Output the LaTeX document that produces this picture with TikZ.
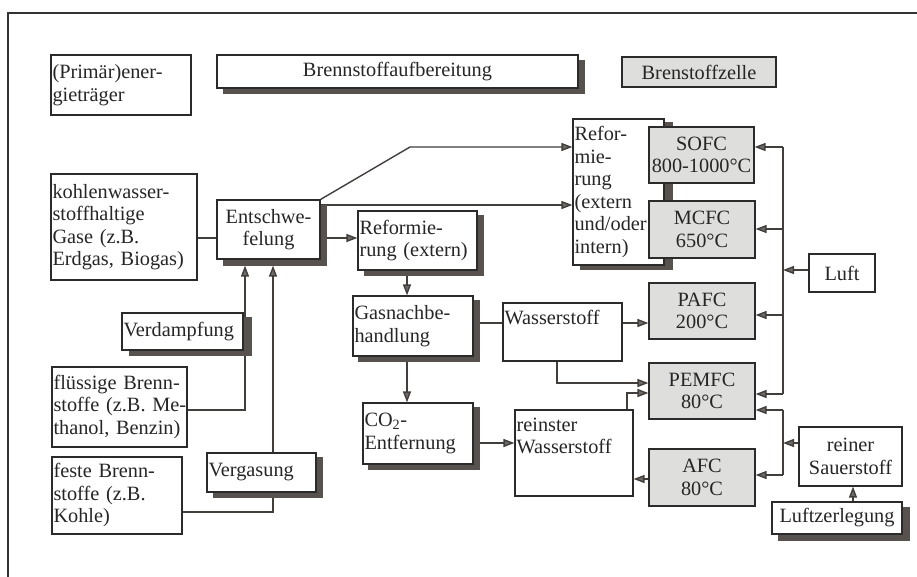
\documentclass[tikz,border=0pt]{standalone}
\usepackage{fontspec}
\setmainfont{Liberation Serif}
\usetikzlibrary{arrows.meta,backgrounds,calc}
\definecolor{boxc}{HTML}{2B2B2B}
\definecolor{txtc}{HTML}{262626}
\definecolor{cellc}{HTML}{DEDEDC}
\definecolor{shdc}{HTML}{58524F}
\definecolor{linec}{HTML}{423E3C}
\definecolor{arrc}{HTML}{6E6A68}
\definecolor{framec}{HTML}{333333}
\newcommand\dfont{\fontsize{20.3pt}{22.5pt}\selectfont}
\newcommand\mkshadow[3]{\fill[shdc] ($(#1.south west)+(#2,#3)$) rectangle ($(#1.north east)+(#2,#3)$);}
\begin{document}
\begin{tikzpicture}[x=1pt,y=-1pt,
 box/.style={draw=boxc, line width=1.2pt, fill=white, inner xsep=1.5pt, inner ysep=0pt, text=txtc, font=\dfont, align=left},
 cbox/.style={box, align=center},
 cell/.style={box, fill=cellc, align=center, inner xsep=1pt},
 toplab/.style={anchor=north west, inner xsep=2pt, inner ysep=8pt, text=txtc, font=\dfont, align=left},
 conn/.style={draw=linec, line width=1.4pt},
 arr/.style={conn, -{Triangle[length=11pt,width=8pt,fill=arrc]}},
]
\useasboundingbox (0,0) rectangle (917,576);
\draw[framec, line width=1.5pt] (8,600) -- (8,13) -- (940,13);

% headers
\node[box, minimum width=140pt, minimum height=60pt, text width=137pt] (prim) at (121,85) {(Primär)ener-\\gieträger};
\node[cbox, minimum width=361pt, minimum height=33pt, text width=358pt] (aufb) at (397.5,71.5) {Brennstoffaufbereitung};
\node[cell, minimum width=154pt, minimum height=30pt, text width=152pt] (zelle) at (699,72) {Brenstoffzelle};

% primary energy carriers
\node[box, minimum width=146pt, minimum height=106pt, text width=143pt] (kohlen) at (124,227) {kohlenwasser-\\stoffhaltige\\Gase (z.B.\\\mbox{Erdgas, Biogas)}};
\node[box, minimum width=135pt, minimum height=80pt, text width=132pt] (fluess) at (119.5,407) {\mbox{flüssige Brenn-}\\\mbox{stoffe (z.B. Me-}\\\mbox{thanol, Benzin)}};
\node[box, minimum width=130pt, minimum height=77pt, text width=127pt] (feste) at (117,495.5) {feste Brenn-\\stoffe (z.B.\\Kohle)};

% processing
\node[cbox, minimum width=103pt, minimum height=59pt, text width=100pt] (entsch) at (268.5,229.5) {Entschwe-\\felung};
\node[box, minimum width=109pt, minimum height=39pt, text width=106pt] (verg) at (261.5,472.5) {Vergasung};
\node[box, minimum width=119pt, minimum height=59pt, text width=116pt] (refext) at (417.5,240.5) {Reformie-\\\mbox{rung (extern)}};
\node[box, minimum width=91pt, minimum height=146pt, text width=88pt] (refbig) at (618.5,192) {Refor-\\mie-\\rung\\(extern\\und/oder\\intern)};
\node[box, minimum width=120pt, minimum height=60pt, text width=117pt] (gasn) at (413,326) {Gasnachbe-\\handlung};
\node[box, minimum width=119pt, minimum height=58pt, label={[toplab]north west:Wasserstoff}] (wass) at (562.5,332) {};
\node[box, minimum width=110pt, minimum height=61pt, text width=107pt] (co2) at (418,433.5) {CO\textsubscript{2}-\\Entfernung};
\node[box, minimum width=118pt, minimum height=86pt, label={[toplab]north west:reinster\\Wasserstoff}] (rein) at (574,453) {};

% fuel cells
\node[cell, minimum width=105pt, minimum height=56pt, text width=103pt] (sofc) at (701.5,155) {SOFC\\\mbox{800-1000°C}};
\node[cell, minimum width=106pt, minimum height=57pt, text width=104pt] (mcfc) at (702,229.5) {MCFC\\650°C};
\node[cell, minimum width=106pt, minimum height=56pt, text width=104pt] (pafc) at (702,311) {PAFC\\200°C};
\node[cell, minimum width=106pt, minimum height=56pt, text width=104pt] (pemfc) at (702,391) {PEMFC\\80°C};
\node[cell, minimum width=106pt, minimum height=57pt, text width=104pt] (afc) at (702,477.5) {AFC\\80°C};

% oxidant side
\node[cbox, minimum width=66pt, minimum height=38pt, text width=63pt] (luft) at (842,273) {Luft};
\node[cbox, minimum width=103pt, minimum height=59pt, text width=100pt] (reiner) at (850.5,456.5) {reiner\\Sauerstoff};
\node[cbox, minimum width=130pt, minimum height=32pt, text width=127pt] (luftz) at (837,518) {Luftzerlegung};

\node[box, minimum width=121pt, minimum height=37pt, text width=118pt] (verd) at (182.5,331.5) {Verdampfung};

\coordinate (busAt) at (783,147);
\coordinate (busAb) at (783,394);
\coordinate (busBt) at (783,410);
\coordinate (busBb) at (783,475);

\begin{scope}[on background layer]
\fill[white] (0,0) rectangle (917,576);
\draw[conn] (kohlen.east |- 0,238) -- (entsch.west |- 0,238);
\draw[arr] (entsch.east |- 0,238) -- (refext.west |- 0,238);
\draw[arr] (entsch.north east) -- (410,147) -- (refbig.west |- 0,147);
\draw[arr] (entsch.east |- 0,205) -- (refbig.west |- 0,205);
\draw[arr] (fluess.east |- 0,410) -- (245,410) -- ($(entsch.south -| 245,0)+(0,6)$);
\draw[conn] (feste.east |- 0,512) -- (273,512) -- (verg.south -| 273,0);
\draw[arr] (verg.north -| 273,0) -- ($(entsch.south -| 273,0)+(0,6)$);
\draw[arr] ($(refext.south -| 407,0)+(0,5)$) -- (gasn.north -| 407,0);
\draw[arr] ($(gasn.south -| 407,0)+(0,5)$) -- (co2.north -| 407,0);
\draw[conn] (gasn.east |- 0,323) -- (wass.west |- 0,323);
\draw[arr] (wass.east |- 0,323) -- (pafc.west |- 0,323);
\draw[arr] (wass.south -| 557,0) -- (557,383) -- (pemfc.west |- 0,383);
\draw[arr] (co2.east |- 0,443) -- (rein.west |- 0,443);
\draw[arr] (rein.north -| 627,0) -- (627,393) -- (pemfc.west |- 0,393);
\draw[arr] (afc.west |- 0,479) -- (rein.east |- 0,479);
\draw[conn] (busAt) -- (busAb);
\draw[arr] (busAt) -- (sofc.east |- busAt);
\draw[arr] (busAt |- 0,229) -- (mcfc.east |- 0,229);
\draw[arr] (busAt |- 0,315) -- (pafc.east |- 0,315);
\draw[arr] (busAb) -- (pemfc.east |- busAb);
\draw[arr] (luft.west |- 0,270) -- (busAt |- 0,270);
\draw[conn] (busBt) -- (busBb);
\draw[arr] (busBt) -- (pemfc.east |- busBt);
\draw[arr] (busBb) -- (afc.east |- busBb);
\draw[arr] (reiner.west |- 0,443) -- (busBt |- 0,443);
\draw[arr] (luftz.north -| 853,0) -- (reiner.south -| 853,0);
% drop shadows (above the connectors, below the boxes)
\mkshadow{aufb}{6.5}{5.5}
\mkshadow{entsch}{6.5}{6}
\mkshadow{verg}{6.5}{5}
\mkshadow{refext}{6.5}{5}
\mkshadow{refbig}{8}{4}
\mkshadow{gasn}{6}{5}
\mkshadow{co2}{6}{5}
\mkshadow{luftz}{7}{6}
\mkshadow{verd}{8}{5}
\end{scope}
\end{tikzpicture}
\end{document}
